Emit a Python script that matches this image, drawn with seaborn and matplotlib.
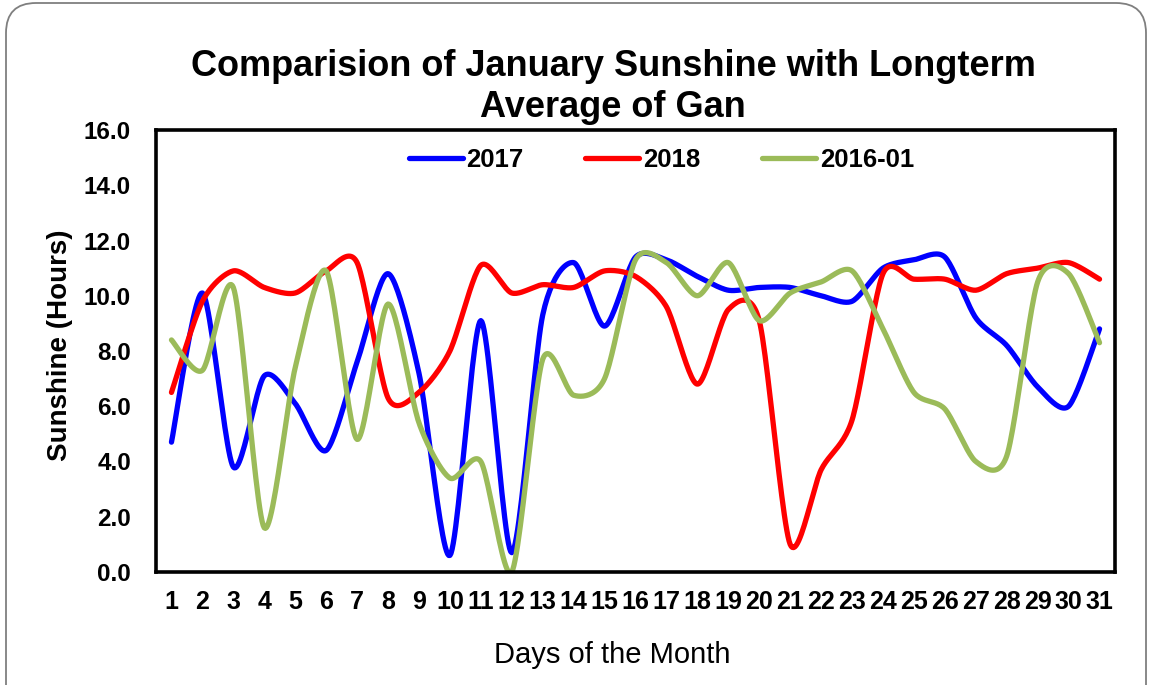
import numpy as np
import pandas as pd
import matplotlib
matplotlib.use('Agg')
import matplotlib.pyplot as plt
import seaborn as sns
from matplotlib.patches import FancyBboxPatch
from matplotlib.ticker import FixedLocator, FormatStrFormatter

sns.set_style(style="white")
plt.rcParams['font.family'] = ['Liberation Sans', 'DejaVu Sans']
plt.rc('text', color='black')
plt.rc('xtick', color='black')
plt.rc('ytick', color='black')

days = list(range(1, 32))
series_names = ['2017', '2018', '2016-01']
series_colors = ['#0000FF', '#FF0000', '#9BBB59']

sun_2017 = [4.7, 10.1, 3.8, 7.1, 6.1, 4.4, 7.6, 10.8, 7.2, 0.6,
            9.1, 0.7, 9.3, 11.2, 8.9, 11.4, 11.3, 10.7, 10.2, 10.3,
            10.3, 10.0, 9.8, 11.0, 11.3, 11.4, 9.2, 8.2, 6.7, 6.0, 8.8]
sun_2018 = [6.5, 9.8, 10.9, 10.3, 10.1, 10.9, 11.2, 6.3, 6.5, 8.0,
            11.1, 10.1, 10.4, 10.3, 10.9, 10.7, 9.6, 6.8, 9.5, 9.1,
            1.0, 3.7, 5.5, 10.8, 10.6, 10.6, 10.2, 10.8, 11.0, 11.2, 10.6]
sun_2016 = [8.4, 7.3, 10.3, 1.6, 7.4, 10.9, 4.8, 9.7, 5.4, 3.4,
            4.0, 0.0, 7.7, 6.4, 7.0, 11.3, 11.2, 10.0, 11.2, 9.1,
            10.1, 10.5, 10.9, 8.8, 6.5, 5.9, 4.0, 4.2, 10.5, 10.8, 8.3]


def smooth(x, y, n=24, s=0.4):
    # cardinal spline through the points, close to excel's "smoothed line"
    x = np.asarray(x, float)
    y = np.asarray(y, float)
    px = np.concatenate([[x[0]], x, [x[-1]]])
    py = np.concatenate([[y[0]], y, [y[-1]]])
    t = np.linspace(0, 1, n, endpoint=False)
    h00 = 2 * t ** 3 - 3 * t ** 2 + 1
    h10 = t ** 3 - 2 * t ** 2 + t
    h01 = -2 * t ** 3 + 3 * t ** 2
    h11 = t ** 3 - t ** 2
    xs, ys = [], []
    for i in range(1, len(px) - 2):
        for p, out in ((px, xs), (py, ys)):
            m1 = s * (p[i + 1] - p[i - 1])
            m2 = s * (p[i + 2] - p[i])
            out.extend(h00 * p[i] + h10 * m1 + h01 * p[i + 1] + h11 * m2)
    xs.append(x[-1])
    ys.append(y[-1])
    return xs, ys


frames = []
for name, vals in zip(series_names, [sun_2017, sun_2018, sun_2016]):
    sx, sy = smooth(days, vals)
    frames.append(pd.DataFrame({'day': sx, 'hours': sy, 'series': name}))
df = pd.concat(frames, ignore_index=True)

fig = plt.figure(figsize=(11.51, 6.85), dpi=100)
ax = fig.add_axes([156 / 1151, 1 - 572 / 685, 959 / 1151, 442 / 685])

sns.lineplot(data=df, x='day', y='hours', hue='series', hue_order=series_names,
             palette=series_colors, sort=False, estimator=None,
             linewidth=3.8, ax=ax)

ax.set_xlim(0.5, 31.5)
ax.set_ylim(0, 16)
ax.xaxis.set_major_locator(FixedLocator(days))
ax.xaxis.set_minor_locator(FixedLocator(np.arange(0.5, 32, 1)))
ax.set_xticklabels([str(d) for d in days], fontweight='bold', fontsize=18)
ax.yaxis.set_major_locator(FixedLocator(np.arange(0, 17, 2)))
ax.yaxis.set_major_formatter(FormatStrFormatter('%.1f'))
for lab in ax.get_yticklabels():
    lab.set_fontweight('bold')
    lab.set_fontsize(17.5)
ax.tick_params(axis='x', which='major', length=0, pad=13)
ax.tick_params(axis='x', which='minor', length=7, width=0.8, color='#555555', direction='out')
ax.tick_params(axis='y', which='major', length=6, width=0.8, color='#555555', direction='out', pad=12)
for sp in ax.spines.values():
    sp.set_linewidth(2.6)
    sp.set_color('black')
ax.set_xlabel('')
ax.set_ylabel('')

handles, labels = ax.get_legend_handles_labels()
ax.legend(handles, labels, loc='center', bbox_to_anchor=(0.527, 0.932), ncol=3,
          frameon=False, handlelength=2.1, handletextpad=0.15, columnspacing=2.4,
          prop={'weight': 'bold', 'size': 18.5})

fig.text(613 / 1151, 1 - 87 / 685, 'Comparision of January Sunshine with Longterm\nAverage of Gan',
         ha='center', va='center', fontsize=26, fontweight='bold', linespacing=1.2)
fig.text(612 / 1151, 1 - 655 / 685, 'Days of the Month', ha='center', va='center', fontsize=21)
fig.text(60 / 1151, 1 - 345 / 685, 'Sunshine (Hours)', ha='center', va='center',
         rotation=90, fontsize=20, fontweight='bold')

# slide frame
frame = FancyBboxPatch((0.06, -0.4), 11.4, 7.22, boxstyle='round,pad=0,rounding_size=0.3',
                       transform=fig.dpi_scale_trans, facecolor='none',
                       edgecolor='#7f7f7f', linewidth=1.3, clip_on=False)
fig.patches.append(frame)

fig.savefig('out.png', dpi=100)
